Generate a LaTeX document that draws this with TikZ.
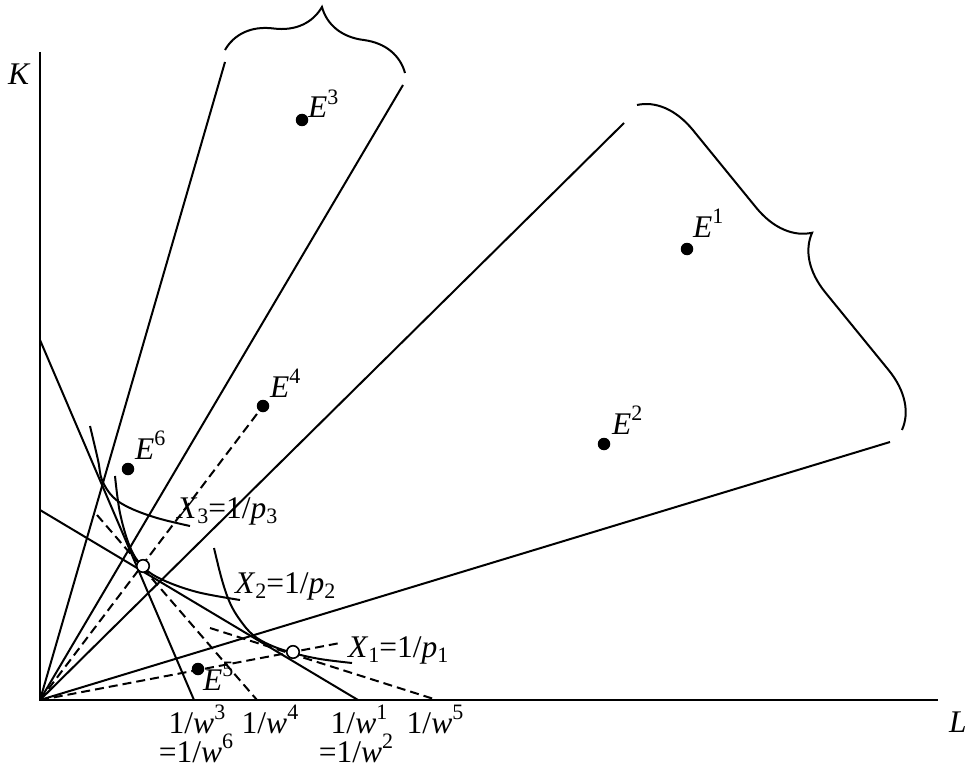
\documentclass[tikz,border=0pt]{standalone}
\usepackage{fontspec}
\setmainfont{Liberation Serif}
\usetikzlibrary{decorations.pathreplacing}
\newcommand\upsc[1]{\raisebox{0.44em}{\fontsize{22}{22}\selectfont #1}}
\newcommand\dnsc[1]{\raisebox{-0.17em}{\fontsize{22}{22}\selectfont #1}}
\tikzset{
  ln/.style={line width=2pt},
  dsh/.style={line width=2pt, dash pattern=on 9pt off 5pt},
  crv/.style={line width=2pt, smooth, tension=0.6},
  dotf/.style={circle, fill=black, inner sep=0pt, minimum size=12.5pt},
  opn/.style={circle, draw=black, fill=white, line width=1.6pt, inner sep=0pt, minimum size=12.5pt},
  lab/.style={inner sep=0pt, font=\fontsize{31.5}{37}\selectfont},
  brc/.style={line width=2pt, decorate, decoration={brace, amplitude=55pt, aspect=0.5}}
}
\begin{document}
\begin{tikzpicture}[x=1pt,y=-1pt]
\useasboundingbox (0,0) rectangle (969,773);
% axes
\coordinate (O) at (40,700);
\coordinate (ytop) at (40,52);
\coordinate (xend) at (938,700);
\draw[ln] (ytop) -- (O) -- (xend);
\node[lab, anchor=base west] (K) at (8,85) {\textit{K}};
\node[lab, anchor=base west] (L) at (949,732) {\textit{L}};
% rays
\coordinate (r1) at (225,62);
\coordinate (r2) at (403,85);
\coordinate (r3) at (624,123);
\coordinate (r4) at (890,442);
\foreach \r in {r1,r2,r3,r4} \draw[ln] (O) -- (\r);
% braces
\coordinate (b1a) at (225,50);
\coordinate (b1b) at (405,73);
\coordinate (b2a) at (637,105);
\coordinate (b2b) at (902,430);
\draw[brc] (b1a) -- (b1b);
\draw[brc] (b2a) -- (b2b);
% isocost lines
\coordinate (w3a) at (40,340);
\coordinate (w3b) at (194,700);
\coordinate (w1a) at (40,510);
\coordinate (w1b) at (358,700);
\draw[ln] (w3a) -- (w3b);
\draw[ln] (w1a) -- (w1b);
\coordinate (w4a) at (97,515);
\coordinate (w4b) at (257,700);
\coordinate (w5a) at (210,628);
\coordinate (w5b) at (437,700);
\draw[dsh] (w4a) -- (w4b);
\draw[dsh] (w5a) -- (w5b);
% dashed rays
\coordinate (d1) at (340,643);
\node[dotf] (e4) at (263,406) {};
\draw[dsh] (O) -- (e4);
\draw[dsh] (O) -- (d1);
% isoquants
\draw[crv] plot coordinates {(90,426) (98,460) (102,480) (113,497) (130,508) (157,518) (190,526)};
\draw[crv] plot coordinates {(115,476) (120,513) (130,547) (143,567) (163,580) (197,592) (240,600)};
\draw[crv] plot coordinates {(214,548) (222,580) (230,603) (240,620) (253,635) (270,645) (293,653) (320,659) (352,663)};
% open circles
\node[opn] (c3) at (143,566) {};
\node[opn] (c1) at (293,652) {};
% points
\node[dotf] (e1) at (687,249) {};
\node[dotf] (e2) at (604,444) {};
\node[dotf] (e3) at (302,120) {};
\node[dotf] (e5) at (198,669) {};
\node[dotf] (e6) at (128,469) {};
\node[lab, anchor=base west] (le1) at (693,237) {\textit{E}\upsc{1}};
\node[lab, anchor=base west] (le2) at (612,434) {\textit{E}\upsc{2}};
\node[lab, anchor=base west] (le3) at (308,118) {\textit{E}\upsc{3}};
\node[lab, anchor=base west] (le4) at (270,397) {\textit{E}\upsc{4}};
\node[lab, anchor=base west] (le5) at (203,690) {\textit{E}\upsc{5}};
\node[lab, anchor=base west] (le6) at (135,459) {\textit{E}\upsc{6}};
% isoquant labels
\node[lab, anchor=base west] (x3) at (177,518) {\textit{X}\dnsc{3}=1/\textit{p}\dnsc{3}};
\node[lab, anchor=base west] (x2) at (235,593) {\textit{X}\dnsc{2}=1/\textit{p}\dnsc{2}};
\node[lab, anchor=base west] (x1) at (348,657) {\textit{X}\dnsc{1}=1/\textit{p}\dnsc{1}};
% axis labels
\node[lab, anchor=base] (lw3) at (197,733) {1/\textit{w}\upsc{3}};
\node[lab, anchor=base] (lw6) at (196,762) {=1/\textit{w}\upsc{6}};
\node[lab, anchor=base] (lw4) at (270,733) {1/\textit{w}\upsc{4}};
\node[lab, anchor=base] (lw1) at (359,733) {1/\textit{w}\upsc{1}};
\node[lab, anchor=base] (lw2) at (356,762) {=1/\textit{w}\upsc{2}};
\node[lab, anchor=base] (lw5) at (435,733) {1/\textit{w}\upsc{5}};
\end{tikzpicture}
\end{document}
